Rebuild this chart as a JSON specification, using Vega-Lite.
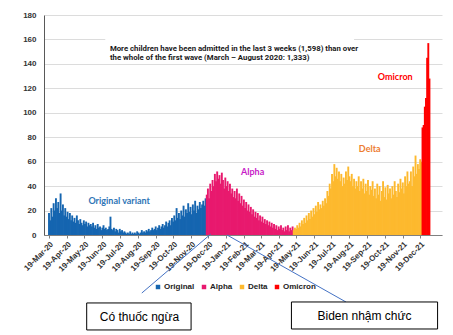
{
"$schema": "https://vega.github.io/schema/vega-lite/v6.json",
"width": 398, "height": 220,
"autosize": {"type": "none"},
"padding": {"left": 44, "top": 15, "right": 11, "bottom": 100},
"background": "white",
"config": {"view": {"stroke": null}, "font": "Liberation Sans"},
"resolve": {"axis": {"x": "independent", "y": "independent"}},
"data": {"format": {"parse": {"d": "date:'%Y-%m-%d'"}}, "values": [
{"d":"2020-03-19","v":18,"s":"Original"},{"d":"2020-03-21","v":12,"s":"Original"},{"d":"2020-03-23","v":22,"s":"Original"},{"d":"2020-03-25","v":15,"s":"Original"},{"d":"2020-03-27","v":26,"s":"Original"},{"d":"2020-03-29","v":20,"s":"Original"},{"d":"2020-03-31","v":30,"s":"Original"},
{"d":"2020-04-02","v":22,"s":"Original"},{"d":"2020-04-04","v":27,"s":"Original"},{"d":"2020-04-06","v":18,"s":"Original"},{"d":"2020-04-08","v":34,"s":"Original"},{"d":"2020-04-10","v":20,"s":"Original"},{"d":"2020-04-12","v":25,"s":"Original"},{"d":"2020-04-14","v":16,"s":"Original"},{"d":"2020-04-16","v":22,"s":"Original"},{"d":"2020-04-18","v":15,"s":"Original"},{"d":"2020-04-20","v":19,"s":"Original"},{"d":"2020-04-22","v":13,"s":"Original"},{"d":"2020-04-24","v":18,"s":"Original"},{"d":"2020-04-26","v":12,"s":"Original"},{"d":"2020-04-28","v":16,"s":"Original"},{"d":"2020-04-30","v":11,"s":"Original"},
{"d":"2020-05-02","v":14,"s":"Original"},{"d":"2020-05-04","v":10,"s":"Original"},{"d":"2020-05-06","v":16,"s":"Original"},{"d":"2020-05-08","v":12,"s":"Original"},{"d":"2020-05-10","v":9,"s":"Original"},{"d":"2020-05-12","v":13,"s":"Original"},{"d":"2020-05-14","v":10,"s":"Original"},{"d":"2020-05-16","v":8,"s":"Original"},{"d":"2020-05-18","v":12,"s":"Original"},{"d":"2020-05-20","v":9,"s":"Original"},{"d":"2020-05-22","v":11,"s":"Original"},{"d":"2020-05-24","v":7,"s":"Original"},{"d":"2020-05-26","v":10,"s":"Original"},{"d":"2020-05-28","v":8,"s":"Original"},{"d":"2020-05-30","v":9,"s":"Original"},
{"d":"2020-06-01","v":7,"s":"Original"},{"d":"2020-06-03","v":10,"s":"Original"},{"d":"2020-06-05","v":6,"s":"Original"},{"d":"2020-06-07","v":8,"s":"Original"},{"d":"2020-06-09","v":5,"s":"Original"},{"d":"2020-06-11","v":9,"s":"Original"},{"d":"2020-06-13","v":6,"s":"Original"},{"d":"2020-06-15","v":7,"s":"Original"},{"d":"2020-06-17","v":4,"s":"Original"},{"d":"2020-06-19","v":6,"s":"Original"},{"d":"2020-06-21","v":8,"s":"Original"},{"d":"2020-06-23","v":5,"s":"Original"},{"d":"2020-06-25","v":6,"s":"Original"},{"d":"2020-06-27","v":4,"s":"Original"},{"d":"2020-06-29","v":5,"s":"Original"},
{"d":"2020-07-01","v":7,"s":"Original"},{"d":"2020-07-03","v":15,"s":"Original"},{"d":"2020-07-05","v":5,"s":"Original"},{"d":"2020-07-07","v":4,"s":"Original"},{"d":"2020-07-09","v":6,"s":"Original"},{"d":"2020-07-11","v":3,"s":"Original"},{"d":"2020-07-13","v":5,"s":"Original"},{"d":"2020-07-15","v":4,"s":"Original"},{"d":"2020-07-17","v":2,"s":"Original"},{"d":"2020-07-19","v":5,"s":"Original"},{"d":"2020-07-21","v":3,"s":"Original"},{"d":"2020-07-23","v":4,"s":"Original"},{"d":"2020-07-25","v":2,"s":"Original"},{"d":"2020-07-27","v":3,"s":"Original"},{"d":"2020-07-29","v":2,"s":"Original"},{"d":"2020-07-31","v":1,"s":"Original"},
{"d":"2020-08-02","v":2,"s":"Original"},{"d":"2020-08-04","v":1,"s":"Original"},{"d":"2020-08-06","v":3,"s":"Original"},{"d":"2020-08-08","v":1,"s":"Original"},{"d":"2020-08-10","v":2,"s":"Original"},{"d":"2020-08-12","v":1,"s":"Original"},{"d":"2020-08-14","v":2,"s":"Original"},{"d":"2020-08-16","v":1,"s":"Original"},{"d":"2020-08-18","v":3,"s":"Original"},{"d":"2020-08-20","v":2,"s":"Original"},{"d":"2020-08-22","v":1,"s":"Original"},{"d":"2020-08-24","v":2,"s":"Original"},{"d":"2020-08-26","v":4,"s":"Original"},{"d":"2020-08-28","v":2,"s":"Original"},{"d":"2020-08-30","v":3,"s":"Original"},
{"d":"2020-09-01","v":2,"s":"Original"},{"d":"2020-09-03","v":4,"s":"Original"},{"d":"2020-09-05","v":3,"s":"Original"},{"d":"2020-09-07","v":5,"s":"Original"},{"d":"2020-09-09","v":3,"s":"Original"},{"d":"2020-09-11","v":4,"s":"Original"},{"d":"2020-09-13","v":6,"s":"Original"},{"d":"2020-09-15","v":4,"s":"Original"},{"d":"2020-09-17","v":5,"s":"Original"},{"d":"2020-09-19","v":7,"s":"Original"},{"d":"2020-09-21","v":4,"s":"Original"},{"d":"2020-09-23","v":6,"s":"Original"},{"d":"2020-09-25","v":8,"s":"Original"},{"d":"2020-09-27","v":5,"s":"Original"},{"d":"2020-09-29","v":7,"s":"Original"},
{"d":"2020-10-01","v":9,"s":"Original"},{"d":"2020-10-03","v":6,"s":"Original"},{"d":"2020-10-05","v":8,"s":"Original"},{"d":"2020-10-07","v":11,"s":"Original"},{"d":"2020-10-09","v":7,"s":"Original"},{"d":"2020-10-11","v":10,"s":"Original"},{"d":"2020-10-13","v":12,"s":"Original"},{"d":"2020-10-15","v":8,"s":"Original"},{"d":"2020-10-17","v":14,"s":"Original"},{"d":"2020-10-19","v":11,"s":"Original"},{"d":"2020-10-21","v":16,"s":"Original"},{"d":"2020-10-23","v":12,"s":"Original"},{"d":"2020-10-25","v":22,"s":"Original"},{"d":"2020-10-27","v":14,"s":"Original"},{"d":"2020-10-29","v":18,"s":"Original"},{"d":"2020-10-31","v":13,"s":"Original"},
{"d":"2020-11-02","v":20,"s":"Original"},{"d":"2020-11-04","v":16,"s":"Original"},{"d":"2020-11-06","v":24,"s":"Original"},{"d":"2020-11-08","v":15,"s":"Original"},{"d":"2020-11-10","v":21,"s":"Original"},{"d":"2020-11-12","v":18,"s":"Original"},{"d":"2020-11-14","v":26,"s":"Original"},{"d":"2020-11-16","v":19,"s":"Original"},{"d":"2020-11-18","v":23,"s":"Original"},{"d":"2020-11-20","v":17,"s":"Original"},{"d":"2020-11-22","v":25,"s":"Original"},{"d":"2020-11-24","v":20,"s":"Original"},{"d":"2020-11-26","v":28,"s":"Original"},{"d":"2020-11-28","v":18,"s":"Original"},{"d":"2020-11-30","v":24,"s":"Original"},
{"d":"2020-12-02","v":21,"s":"Original"},{"d":"2020-12-04","v":27,"s":"Original"},{"d":"2020-12-06","v":22,"s":"Original"},{"d":"2020-12-08","v":25,"s":"Original"},{"d":"2020-12-10","v":28,"s":"Original"},{"d":"2020-12-12","v":24,"s":"Original"},{"d":"2020-12-14","v":30,"s":"Original"},
{"d":"2020-12-16","v":33,"s":"Alpha"},{"d":"2020-12-18","v":38,"s":"Alpha"},{"d":"2020-12-20","v":30,"s":"Alpha"},{"d":"2020-12-22","v":42,"s":"Alpha"},{"d":"2020-12-24","v":36,"s":"Alpha"},{"d":"2020-12-26","v":45,"s":"Alpha"},{"d":"2020-12-28","v":40,"s":"Alpha"},{"d":"2020-12-30","v":50,"s":"Alpha"},
{"d":"2021-01-01","v":44,"s":"Alpha"},{"d":"2021-01-03","v":52,"s":"Alpha"},{"d":"2021-01-05","v":46,"s":"Alpha"},{"d":"2021-01-07","v":49,"s":"Alpha"},{"d":"2021-01-09","v":42,"s":"Alpha"},{"d":"2021-01-11","v":51,"s":"Alpha"},{"d":"2021-01-13","v":45,"s":"Alpha"},{"d":"2021-01-15","v":38,"s":"Alpha"},{"d":"2021-01-17","v":47,"s":"Alpha"},{"d":"2021-01-19","v":40,"s":"Alpha"},{"d":"2021-01-21","v":44,"s":"Alpha"},{"d":"2021-01-23","v":36,"s":"Alpha"},{"d":"2021-01-25","v":42,"s":"Alpha"},{"d":"2021-01-27","v":34,"s":"Alpha"},{"d":"2021-01-29","v":38,"s":"Alpha"},{"d":"2021-01-31","v":31,"s":"Alpha"},
{"d":"2021-02-02","v":36,"s":"Alpha"},{"d":"2021-02-04","v":30,"s":"Alpha"},{"d":"2021-02-06","v":38,"s":"Alpha"},{"d":"2021-02-08","v":28,"s":"Alpha"},{"d":"2021-02-10","v":34,"s":"Alpha"},{"d":"2021-02-12","v":26,"s":"Alpha"},{"d":"2021-02-14","v":32,"s":"Alpha"},{"d":"2021-02-16","v":24,"s":"Alpha"},{"d":"2021-02-18","v":29,"s":"Alpha"},{"d":"2021-02-20","v":22,"s":"Alpha"},{"d":"2021-02-22","v":27,"s":"Alpha"},{"d":"2021-02-24","v":20,"s":"Alpha"},{"d":"2021-02-26","v":25,"s":"Alpha"},{"d":"2021-02-28","v":19,"s":"Alpha"},
{"d":"2021-03-02","v":23,"s":"Alpha"},{"d":"2021-03-04","v":17,"s":"Alpha"},{"d":"2021-03-06","v":21,"s":"Alpha"},{"d":"2021-03-08","v":15,"s":"Alpha"},{"d":"2021-03-10","v":19,"s":"Alpha"},{"d":"2021-03-12","v":14,"s":"Alpha"},{"d":"2021-03-14","v":18,"s":"Alpha"},{"d":"2021-03-16","v":12,"s":"Alpha"},{"d":"2021-03-18","v":16,"s":"Alpha"},{"d":"2021-03-20","v":11,"s":"Alpha"},{"d":"2021-03-22","v":15,"s":"Alpha"},{"d":"2021-03-24","v":10,"s":"Alpha"},{"d":"2021-03-26","v":13,"s":"Alpha"},{"d":"2021-03-28","v":9,"s":"Alpha"},{"d":"2021-03-30","v":12,"s":"Alpha"},
{"d":"2021-04-01","v":8,"s":"Alpha"},{"d":"2021-04-03","v":11,"s":"Alpha"},{"d":"2021-04-05","v":7,"s":"Alpha"},{"d":"2021-04-07","v":10,"s":"Alpha"},{"d":"2021-04-09","v":6,"s":"Alpha"},{"d":"2021-04-11","v":9,"s":"Alpha"},{"d":"2021-04-13","v":5,"s":"Alpha"},{"d":"2021-04-15","v":8,"s":"Alpha"},{"d":"2021-04-17","v":4,"s":"Alpha"},{"d":"2021-04-19","v":7,"s":"Alpha"},{"d":"2021-04-21","v":5,"s":"Alpha"},{"d":"2021-04-23","v":8,"s":"Alpha"},{"d":"2021-04-25","v":4,"s":"Alpha"},{"d":"2021-04-27","v":6,"s":"Alpha"},{"d":"2021-04-29","v":3,"s":"Alpha"},
{"d":"2021-05-01","v":7,"s":"Alpha"},{"d":"2021-05-03","v":4,"s":"Alpha"},{"d":"2021-05-05","v":8,"s":"Alpha"},{"d":"2021-05-07","v":3,"s":"Alpha"},{"d":"2021-05-09","v":6,"s":"Alpha"},{"d":"2021-05-11","v":4,"s":"Alpha"},{"d":"2021-05-13","v":7,"s":"Alpha"},
{"d":"2021-05-15","v":4,"s":"Delta"},{"d":"2021-05-17","v":6,"s":"Delta"},{"d":"2021-05-19","v":5,"s":"Delta"},{"d":"2021-05-21","v":8,"s":"Delta"},{"d":"2021-05-23","v":6,"s":"Delta"},{"d":"2021-05-25","v":10,"s":"Delta"},{"d":"2021-05-27","v":7,"s":"Delta"},{"d":"2021-05-29","v":12,"s":"Delta"},{"d":"2021-05-31","v":9,"s":"Delta"},
{"d":"2021-06-02","v":14,"s":"Delta"},{"d":"2021-06-04","v":10,"s":"Delta"},{"d":"2021-06-06","v":16,"s":"Delta"},{"d":"2021-06-08","v":12,"s":"Delta"},{"d":"2021-06-10","v":18,"s":"Delta"},{"d":"2021-06-12","v":13,"s":"Delta"},{"d":"2021-06-14","v":20,"s":"Delta"},{"d":"2021-06-16","v":15,"s":"Delta"},{"d":"2021-06-18","v":22,"s":"Delta"},{"d":"2021-06-20","v":17,"s":"Delta"},{"d":"2021-06-22","v":24,"s":"Delta"},{"d":"2021-06-24","v":19,"s":"Delta"},{"d":"2021-06-26","v":27,"s":"Delta"},{"d":"2021-06-28","v":21,"s":"Delta"},{"d":"2021-06-30","v":25,"s":"Delta"},
{"d":"2021-07-02","v":22,"s":"Delta"},{"d":"2021-07-04","v":28,"s":"Delta"},{"d":"2021-07-06","v":24,"s":"Delta"},{"d":"2021-07-08","v":30,"s":"Delta"},{"d":"2021-07-10","v":26,"s":"Delta"},{"d":"2021-07-12","v":36,"s":"Delta"},{"d":"2021-07-14","v":32,"s":"Delta"},{"d":"2021-07-16","v":42,"s":"Delta"},{"d":"2021-07-18","v":38,"s":"Delta"},{"d":"2021-07-20","v":50,"s":"Delta"},{"d":"2021-07-22","v":44,"s":"Delta"},{"d":"2021-07-24","v":58,"s":"Delta"},{"d":"2021-07-26","v":48,"s":"Delta"},{"d":"2021-07-28","v":55,"s":"Delta"},{"d":"2021-07-30","v":46,"s":"Delta"},
{"d":"2021-08-01","v":52,"s":"Delta"},{"d":"2021-08-03","v":44,"s":"Delta"},{"d":"2021-08-05","v":50,"s":"Delta"},{"d":"2021-08-07","v":40,"s":"Delta"},{"d":"2021-08-09","v":47,"s":"Delta"},{"d":"2021-08-11","v":42,"s":"Delta"},{"d":"2021-08-13","v":52,"s":"Delta"},{"d":"2021-08-15","v":45,"s":"Delta"},{"d":"2021-08-17","v":56,"s":"Delta"},{"d":"2021-08-19","v":48,"s":"Delta"},{"d":"2021-08-21","v":44,"s":"Delta"},{"d":"2021-08-23","v":50,"s":"Delta"},{"d":"2021-08-25","v":40,"s":"Delta"},{"d":"2021-08-27","v":46,"s":"Delta"},{"d":"2021-08-29","v":38,"s":"Delta"},{"d":"2021-08-31","v":44,"s":"Delta"},
{"d":"2021-09-02","v":40,"s":"Delta"},{"d":"2021-09-04","v":48,"s":"Delta"},{"d":"2021-09-06","v":36,"s":"Delta"},{"d":"2021-09-08","v":44,"s":"Delta"},{"d":"2021-09-10","v":38,"s":"Delta"},{"d":"2021-09-12","v":46,"s":"Delta"},{"d":"2021-09-14","v":34,"s":"Delta"},{"d":"2021-09-16","v":42,"s":"Delta"},{"d":"2021-09-18","v":36,"s":"Delta"},{"d":"2021-09-20","v":45,"s":"Delta"},{"d":"2021-09-22","v":33,"s":"Delta"},{"d":"2021-09-24","v":40,"s":"Delta"},{"d":"2021-09-26","v":37,"s":"Delta"},{"d":"2021-09-28","v":44,"s":"Delta"},{"d":"2021-09-30","v":32,"s":"Delta"},
{"d":"2021-10-02","v":38,"s":"Delta"},{"d":"2021-10-04","v":30,"s":"Delta"},{"d":"2021-10-06","v":42,"s":"Delta"},{"d":"2021-10-08","v":33,"s":"Delta"},{"d":"2021-10-10","v":40,"s":"Delta"},{"d":"2021-10-12","v":28,"s":"Delta"},{"d":"2021-10-14","v":36,"s":"Delta"},{"d":"2021-10-16","v":44,"s":"Delta"},{"d":"2021-10-18","v":31,"s":"Delta"},{"d":"2021-10-20","v":39,"s":"Delta"},{"d":"2021-10-22","v":29,"s":"Delta"},{"d":"2021-10-24","v":41,"s":"Delta"},{"d":"2021-10-26","v":34,"s":"Delta"},{"d":"2021-10-28","v":38,"s":"Delta"},{"d":"2021-10-30","v":30,"s":"Delta"},
{"d":"2021-11-01","v":40,"s":"Delta"},{"d":"2021-11-03","v":33,"s":"Delta"},{"d":"2021-11-05","v":44,"s":"Delta"},{"d":"2021-11-07","v":36,"s":"Delta"},{"d":"2021-11-09","v":31,"s":"Delta"},{"d":"2021-11-11","v":42,"s":"Delta"},{"d":"2021-11-13","v":35,"s":"Delta"},{"d":"2021-11-15","v":46,"s":"Delta"},{"d":"2021-11-17","v":38,"s":"Delta"},{"d":"2021-11-19","v":43,"s":"Delta"},{"d":"2021-11-21","v":34,"s":"Delta"},{"d":"2021-11-23","v":48,"s":"Delta"},{"d":"2021-11-25","v":40,"s":"Delta"},{"d":"2021-11-27","v":52,"s":"Delta"},{"d":"2021-11-29","v":42,"s":"Delta"},
{"d":"2021-12-01","v":44,"s":"Delta"},{"d":"2021-12-03","v":52,"s":"Delta"},{"d":"2021-12-05","v":40,"s":"Delta"},{"d":"2021-12-07","v":56,"s":"Delta"},{"d":"2021-12-09","v":48,"s":"Delta"},{"d":"2021-12-11","v":65,"s":"Delta"},{"d":"2021-12-13","v":50,"s":"Delta"},{"d":"2021-12-15","v":58,"s":"Delta"},{"d":"2021-12-17","v":54,"s":"Delta"},{"d":"2021-12-19","v":62,"s":"Delta"},{"d":"2021-12-21","v":60,"s":"Delta"},
{"d":"2021-12-23","v":88,"s":"Omicron"},{"d":"2021-12-25","v":90,"s":"Omicron"},{"d":"2021-12-27","v":105,"s":"Omicron"},{"d":"2021-12-29","v":112,"s":"Omicron"},{"d":"2021-12-31","v":145,"s":"Omicron"},{"d":"2022-01-02","v":157,"s":"Omicron"},{"d":"2022-01-04","v":128,"s":"Omicron"}
]},
"layer": [
{"mark": {"type": "bar", "size": 1.9, "clip": true},
 "encoding": {
  "x": {"field": "d", "type": "temporal",
   "scale": {"domain": [{"year": 2020, "month": "Mar", "date": 19}, {"year": 2022, "month": "Jan", "date": 17}]},
   "axis": {"title": null, "grid": false, "format": "%d-%b-%y", "labelAngle": -45, "labelFontSize": 8, "labelFontWeight": "bold", "labelColor": "#333333", "labelPadding": 2, "tickSize": 3, "tickColor": "#808080", "domainColor": "#808080", "labelOverlap": false, "labelFlush": false,
    "values": [{"year":2020,"month":"Mar","date":19},{"year":2020,"month":"Apr","date":19},{"year":2020,"month":"May","date":19},{"year":2020,"month":"Jun","date":19},{"year":2020,"month":"Jul","date":19},{"year":2020,"month":"Aug","date":19},{"year":2020,"month":"Sep","date":19},{"year":2020,"month":"Oct","date":19},{"year":2020,"month":"Nov","date":19},{"year":2020,"month":"Dec","date":19},{"year":2021,"month":"Jan","date":19},{"year":2021,"month":"Feb","date":19},{"year":2021,"month":"Mar","date":19},{"year":2021,"month":"Apr","date":19},{"year":2021,"month":"May","date":19},{"year":2021,"month":"Jun","date":19},{"year":2021,"month":"Jul","date":19},{"year":2021,"month":"Aug","date":19},{"year":2021,"month":"Sep","date":19},{"year":2021,"month":"Oct","date":19},{"year":2021,"month":"Nov","date":19},{"year":2021,"month":"Dec","date":19}]}},
  "y": {"field": "v", "type": "quantitative", "scale": {"domain": [0, 180]},
   "axis": {"title": null, "values": [0,20,40,60,80,100,120,140,160,180], "labelOverlap": false, "ticks": false, "tickSize": 0, "labelPadding": 8, "labelFontSize": 8, "labelFontWeight": "bold", "labelColor": "#333333", "gridColor": "#dcdcdc", "domainColor": "#595959"}},
  "color": {"field": "s", "type": "nominal",
   "scale": {"domain": ["Original", "Alpha", "Delta", "Omicron"], "range": ["#1565B0", "#E8196E", "#FDB92E", "#FF0000"]},
   "legend": {"title": null, "orient": "none", "direction": "horizontal", "legendX": 110, "legendY": 268, "symbolType": "square", "symbolSize": 20, "labelFontSize": 8, "labelFontWeight": "bold", "labelColor": "#222222", "labelOffset": 2, "columnPadding": 5}}
 }},
{"data": {"values": [{}]}, "mark": {"type": "rect", "fill": "white"},
 "encoding": {"x": {"datum": {"year": 2020, "month": "Jun", "date": 24}, "type": "temporal", "axis": null}, "x2": {"datum": {"year": 2021, "month": "Aug", "date": 27}},
  "y": {"datum": 145, "type": "quantitative", "axis": null}, "y2": {"datum": 163}}},
{"data": {"values": [{}]}, "mark": {"type": "text", "text": ["More children have been admitted in the last 3 weeks (1,598) than over", "the whole of the first wave (March \u2013 August 2020: 1,333)"], "align": "left", "baseline": "middle", "font": "Roboto", "fontSize": 7.8, "fontWeight": "bold", "lineHeight": 8.5, "color": "#1a1a1a"},
 "encoding": {"x": {"datum": {"year": 2020, "month": "Jul", "date": 2}, "type": "temporal", "axis": null}, "y": {"datum": 152, "type": "quantitative", "axis": null}}},
{"data": {"values": [{}]}, "mark": {"type": "text", "text": "Original variant", "font": "Lato", "fontSize": 9, "fontWeight": "bold", "color": "#2E75B6"},
 "encoding": {"x": {"datum": {"year": 2020, "month": "Jul", "date": 18}, "type": "temporal", "axis": null}, "y": {"datum": 28, "type": "quantitative", "axis": null}}},
{"data": {"values": [{}]}, "mark": {"type": "text", "text": "Alpha", "font": "Lato", "fontSize": 9, "fontWeight": "bold", "color": "#C71BC7"},
 "encoding": {"x": {"datum": {"year": 2021, "month": "Mar", "date": 5}, "type": "temporal", "axis": null}, "y": {"datum": 51.5, "type": "quantitative", "axis": null}}},
{"data": {"values": [{}]}, "mark": {"type": "text", "text": "Delta", "font": "Lato", "fontSize": 9, "fontWeight": "bold", "color": "#ED7D31"},
 "encoding": {"x": {"datum": {"year": 2021, "month": "Sep", "date": 23}, "type": "temporal", "axis": null}, "y": {"datum": 70.4, "type": "quantitative", "axis": null}}},
{"data": {"values": [{}]}, "mark": {"type": "text", "text": "Omicron", "font": "Lato", "fontSize": 9, "fontWeight": "bold", "color": "#FF0000"},
 "encoding": {"x": {"datum": {"year": 2021, "month": "Nov", "date": 6}, "type": "temporal", "axis": null}, "y": {"datum": 129.3, "type": "quantitative", "axis": null}}},
{"data": {"values": [{}]}, "mark": {"type": "rule", "color": "#4472C4", "strokeWidth": 1},
 "encoding": {"x": {"datum": {"year": 2020, "month": "Dec", "date": 23}, "type": "temporal", "axis": null}, "y": {"datum": 0.8, "type": "quantitative", "axis": null}, "x2": {"datum": {"year": 2020, "month": "Aug", "date": 26}}, "y2": {"datum": -47.5}}},
{"data": {"values": [{}]}, "mark": {"type": "rule", "color": "#4472C4", "strokeWidth": 1},
 "encoding": {"x": {"datum": {"year": 2021, "month": "Jan", "date": 20}, "type": "temporal", "axis": null}, "y": {"datum": 0, "type": "quantitative", "axis": null}, "x2": {"datum": {"year": 2021, "month": "Aug", "date": 13}}, "y2": {"datum": -54.8}}},
{"data": {"values": [{}]}, "mark": {"type": "rect", "fill": "white", "stroke": "black", "strokeWidth": 1},
 "encoding": {"x": {"datum": {"year": 2020, "month": "May", "date": 23}, "type": "temporal", "axis": null}, "x2": {"datum": {"year": 2020, "month": "Nov", "date": 19}}, "y": {"datum": -55.6, "type": "quantitative", "axis": null}, "y2": {"datum": -77.7}}},
{"data": {"values": [{}]}, "mark": {"type": "rect", "fill": "white", "stroke": "black", "strokeWidth": 1},
 "encoding": {"x": {"datum": {"year": 2021, "month": "May", "date": 11}, "type": "temporal", "axis": null}, "x2": {"datum": {"year": 2022, "month": "Jan", "date": 18}}, "y": {"datum": -54.8, "type": "quantitative", "axis": null}, "y2": {"datum": -76.9}}},
{"data": {"values": [{}]}, "mark": {"type": "text", "text": "C\u00f3 thu\u1ed1c ng\u1eeba", "font": "Liberation Sans", "fontSize": 12, "color": "black", "align": "center", "baseline": "middle"},
 "encoding": {"x": {"datum": {"year": 2020, "month": "Aug", "date": 22}, "type": "temporal", "axis": null}, "y": {"datum": -66.7, "type": "quantitative", "axis": null}}},
{"data": {"values": [{}]}, "mark": {"type": "text", "text": "Biden nh\u1eadm ch\u1ee9c", "font": "Liberation Sans", "fontSize": 12, "color": "black", "align": "center", "baseline": "middle"},
 "encoding": {"x": {"datum": {"year": 2021, "month": "Sep", "date": 14}, "type": "temporal", "axis": null}, "y": {"datum": -65.9, "type": "quantitative", "axis": null}}}
]
}
